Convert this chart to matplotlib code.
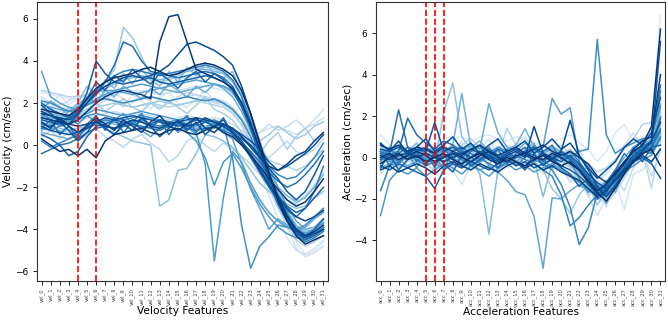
import numpy as np
import matplotlib
matplotlib.use("Agg")
import matplotlib.pyplot as plt

vel_labels = [f"vel_{i}" for i in range(32)]
acc_labels = [f"acc_{i}" for i in range(32)]

# velocity samples, ordered light -> dark
vel_lines = [
    [2.5,2.4,2.3,2.2,2.2,2.4,2.6,2.8,2.9,3.0,3.0,3.1,3.0,2.9,3.0,3.1,3.2,3.3,3.4,3.3,3.2,3.0,2.4,1.5,0.3,-1.0,-2.3,-3.5,-4.6,-5.2,-5.0,-4.6],
    [2.2,1.8,2.4,1.9,2.3,1.7,2.0,2.6,2.2,1.8,2.4,2.1,1.7,2.3,2.5,2.0,1.8,2.2,2.6,2.1,1.9,1.6,0.9,0.0,-1.2,-2.4,-3.5,-4.4,-5.0,-5.2,-4.9,-4.5],
    [2.0,1.9,1.8,1.7,1.8,2.0,2.2,2.3,2.4,2.5,2.6,2.6,2.5,2.4,2.5,2.6,2.7,2.8,2.8,2.7,2.6,2.4,1.9,1.0,-0.2,-1.5,-2.8,-3.9,-4.9,-5.3,-5.1,-4.8],
    [1.2,1.1,1.0,1.0,1.1,1.3,1.4,1.5,1.6,1.5,1.4,1.5,1.4,1.3,1.2,1.3,1.4,1.3,1.2,1.3,1.2,1.0,0.7,0.5,0.6,0.8,0.9,0.7,0.5,0.8,1.2,1.7],
    [2.3,2.0,1.9,2.1,2.4,2.2,1.9,2.1,2.5,2.2,2.0,2.3,2.1,1.8,2.0,2.3,2.5,2.4,2.2,2.0,1.9,1.6,1.0,0.5,0.6,1.0,0.7,0.9,1.2,0.8,1.0,1.3],
    [1.8,1.7,1.6,1.7,1.9,2.1,2.3,2.2,2.1,2.0,2.1,2.2,2.3,2.2,2.1,2.2,2.3,2.4,2.3,2.2,2.1,1.8,1.3,0.6,-0.2,-0.6,-0.2,0.2,-0.3,-0.5,-0.2,0.3],
    [0.4,0.7,0.3,0.6,0.2,0.5,0.8,0.4,0.2,-0.1,0.3,0.5,0.1,-0.2,-0.8,-0.5,0.2,0.4,0.0,-0.3,0.1,-0.2,-0.5,-0.9,-1.4,-1.9,-2.3,-2.6,-2.8,-2.4,-1.9,-1.3],
    [2.6,2.5,2.4,2.3,2.3,2.4,2.5,2.3,2.1,1.9,1.8,1.9,2.0,1.9,1.8,1.9,2.0,2.1,2.0,1.9,1.8,1.5,1.0,0.2,-0.9,-2.0,-3.0,-3.8,-4.5,-4.8,-4.6,-4.3],
    [0.9,0.8,0.7,0.6,0.7,0.9,1.1,1.2,1.3,1.2,1.1,1.2,1.3,1.2,1.1,1.0,1.1,1.2,1.1,1.0,0.9,0.7,0.4,0.1,-0.3,-0.7,-0.9,-1.0,-1.2,-1.0,-0.6,-0.2],
    [1.3,1.6,1.4,1.8,1.5,1.7,2.0,1.6,1.9,2.2,1.8,1.6,2.0,1.7,2.1,1.8,1.5,1.9,2.3,1.7,1.5,1.2,0.6,0.3,-0.4,0.2,0.6,-0.2,0.4,0.8,0.2,0.6],
    [1.5,1.4,1.3,1.2,1.4,1.6,1.8,1.9,2.0,1.9,1.8,1.9,2.0,2.1,2.0,1.9,2.0,2.1,2.2,2.1,2.0,1.7,1.2,0.6,0.2,0.5,0.9,0.6,0.3,0.5,0.9,1.1],
    [1.1,1.0,1.2,1.4,1.7,2.2,2.6,3.0,3.6,5.6,5.1,4.2,3.3,3.0,3.1,3.3,3.5,3.6,3.7,3.6,3.4,3.0,2.3,1.2,-0.1,-1.3,-2.4,-3.3,-4.0,-4.2,-4.0,-3.6],
    [1.0,0.9,0.8,0.7,0.8,0.9,1.0,0.8,0.6,0.4,0.2,0.1,0.0,-2.9,-2.6,-1.2,-1.1,-0.4,0.5,0.4,0.2,-0.1,-0.6,-1.2,-1.8,-2.2,-2.5,-2.8,-3.0,-2.9,-2.5,-2.2],
    [1.4,1.8,1.2,1.6,2.0,2.8,2.4,3.1,2.7,3.4,2.9,3.6,3.1,2.8,3.5,3.0,3.7,3.3,3.9,3.4,3.2,3.5,2.5,1.4,0.2,-1.2,-2.4,-3.3,-4.0,-4.4,-4.1,-3.9],
    [1.6,1.5,1.4,1.3,1.6,2.1,2.5,2.7,2.9,3.1,3.2,3.3,3.2,3.1,3.2,3.4,3.5,3.6,3.6,3.5,3.4,3.1,2.4,1.3,0.1,-1.1,-2.2,-3.1,-3.8,-4.1,-4.0,-3.7],
    [0.6,0.5,0.4,0.3,0.5,0.8,1.0,1.1,1.0,0.9,1.0,1.1,0.9,0.8,0.9,1.0,0.9,0.8,0.9,1.0,0.8,0.6,0.2,-0.3,-0.9,-1.5,-2.0,-2.4,-2.7,-2.5,-2.0,-1.4],
    [1.7,2.1,1.8,1.4,1.9,2.3,2.0,2.6,2.3,2.8,2.5,2.2,2.7,2.4,2.9,2.6,2.3,2.8,2.5,2.9,2.7,2.3,1.6,0.7,-0.5,-1.6,-2.6,-3.4,-4.0,-4.3,-4.2,-3.9],
    [1.9,1.8,1.7,1.6,1.8,2.2,2.5,2.6,2.6,2.5,2.4,2.5,2.6,2.7,2.6,2.5,2.6,2.7,2.8,2.9,2.8,2.6,2.1,1.2,0.1,-1.0,-2.0,-2.9,-3.6,-4.0,-3.9,-3.5],
    [0.7,1.0,0.6,0.9,0.4,0.8,1.1,0.8,0.5,0.9,1.2,0.7,0.4,0.8,1.1,0.6,0.9,0.5,0.8,1.1,0.6,0.3,-0.9,-2.1,-3.0,-4.0,-3.5,-3.8,-4.1,-3.9,-3.5,-3.2],
    [3.5,2.3,2.0,1.8,1.7,1.9,2.2,2.4,2.6,2.7,2.8,2.9,2.8,2.7,2.8,2.9,3.0,3.1,3.0,2.9,2.8,2.5,1.9,1.0,-0.2,-1.3,-2.4,-3.2,-3.9,-4.2,-4.1,-3.9],
    [1.4,1.3,1.2,1.1,1.3,1.5,1.7,1.6,1.5,1.4,1.5,1.6,1.5,1.4,1.3,1.2,1.0,0.6,-0.9,-5.5,-2.5,-0.3,-0.8,-1.8,-2.6,-3.2,-3.6,-3.9,-4.1,-4.2,-4.0,-3.7],
    [1.5,1.2,0.9,1.3,1.0,1.4,1.1,0.8,1.2,1.5,1.0,1.3,0.9,1.2,0.8,1.1,0.6,0.2,-0.6,-1.9,-0.8,-0.4,-1.1,-2.0,-2.8,-3.4,-3.9,-4.2,-4.4,-4.5,-4.2,-3.9],
    [0.8,0.7,0.9,1.0,1.2,1.4,1.5,1.4,1.3,1.2,1.3,1.4,1.3,1.2,1.1,1.2,1.3,1.2,1.1,1.0,0.9,-0.6,-3.8,-5.85,-4.8,-4.35,-3.8,-3.9,-4.0,-3.8,-3.4,-3.0],
    [2.1,2.0,1.8,1.6,1.7,1.9,2.1,2.2,2.1,2.0,2.1,2.2,2.3,2.2,2.1,2.2,2.3,2.2,2.1,2.2,2.0,1.7,1.2,0.4,-0.7,-1.8,-2.8,-3.6,-4.2,-4.5,-4.3,-4.0],
    [0.2,-0.1,0.1,0.3,0.5,0.8,1.0,1.2,1.1,1.0,1.1,1.2,1.0,0.9,1.0,1.1,1.0,0.9,1.1,1.2,1.0,0.8,0.4,0.0,-0.5,-1.0,-1.4,-1.6,-1.5,-1.1,-0.6,0.1],
    [1.3,1.2,1.1,1.0,1.4,2.0,2.6,3.0,3.3,3.5,3.6,3.5,3.4,3.3,3.4,3.5,3.6,3.7,3.8,3.7,3.5,3.1,2.3,1.1,-0.3,-1.6,-2.7,-3.6,-4.3,-4.6,-4.4,-4.1],
    [0.8,1.2,0.5,0.9,0.3,1.0,1.4,0.7,1.3,0.6,1.1,1.5,0.8,1.2,0.5,1.0,1.4,0.6,1.2,0.8,1.3,0.5,0.1,-0.6,-1.3,-2.0,-2.6,-3.1,-3.4,-3.0,-2.2,-1.0],
    [-0.4,-0.2,0.0,0.1,0.3,0.6,0.8,0.9,0.8,0.9,1.0,0.9,0.8,0.7,0.9,1.0,0.8,0.7,0.8,0.9,0.7,0.5,0.1,-0.3,-0.8,-1.3,-1.7,-2.0,-1.8,-1.4,-0.9,-0.3],
    [1.0,0.9,1.1,1.3,1.6,2.0,2.4,3.0,3.8,4.9,4.7,4.0,3.5,3.4,3.3,3.2,3.3,3.4,3.5,3.4,3.2,2.8,2.0,0.9,-0.4,-1.6,-2.7,-3.5,-4.2,-4.5,-4.3,-4.0],
    [2.0,1.7,1.5,1.3,1.6,2.2,3.0,2.6,3.3,3.0,3.6,3.2,2.9,3.4,3.1,2.7,3.2,3.5,3.0,3.4,3.1,2.6,1.8,0.8,-0.5,-1.7,-2.8,-3.6,-4.2,-4.4,-4.0,-3.5],
    [0.5,0.3,0.0,-0.5,-0.3,0.4,0.9,1.0,1.2,1.1,1.0,0.8,1.0,1.2,1.1,0.9,1.0,1.2,1.1,0.9,1.0,0.7,0.2,-0.4,-1.1,-1.8,-2.4,-2.9,-3.2,-3.0,-2.5,-2.0],
    [1.2,1.1,1.0,1.0,1.5,2.5,4.0,3.4,3.0,2.9,3.0,3.1,3.2,3.0,2.9,3.0,3.1,3.2,3.3,3.2,3.0,2.7,2.0,1.0,-0.2,-1.4,-2.4,-3.3,-4.0,-4.3,-4.2,-4.0],
    [1.9,1.5,1.1,0.7,0.2,0.6,1.2,0.8,0.5,1.0,0.7,1.3,0.9,0.4,0.8,1.2,0.7,1.1,0.5,0.9,1.2,0.6,0.3,0.0,-0.5,-1.1,-1.6,-2.2,-2.6,-2.2,-1.4,-0.5],
    [0.9,0.7,0.6,0.5,0.6,0.8,1.1,1.3,1.2,1.3,1.4,1.3,1.2,1.1,1.0,1.1,1.2,1.3,1.2,1.1,1.0,0.8,0.5,0.2,-0.2,-0.8,-1.2,-1.0,-0.7,-0.4,0.0,0.5],
    [1.5,1.4,1.3,1.2,1.5,2.0,2.5,2.8,3.0,3.2,3.3,3.2,3.3,3.5,3.8,4.3,4.8,4.9,4.7,4.5,4.2,3.8,2.8,1.5,0.0,-1.3,-2.5,-3.4,-4.1,-4.4,-4.2,-4.0],
    [1.6,1.4,1.2,1.0,0.9,1.0,1.1,0.9,0.8,1.0,1.2,1.1,0.9,0.8,1.0,1.1,0.9,1.0,1.3,1.1,0.9,0.6,0.1,-0.5,-1.2,-1.9,-2.5,-3.0,-3.4,-3.6,-3.4,-3.1],
    [1.1,0.8,1.3,0.9,0.6,0.9,1.3,1.0,0.7,1.2,0.9,0.6,1.1,1.4,0.9,0.7,1.0,1.3,0.8,0.6,1.0,0.8,0.4,-0.1,-0.6,-1.0,-1.2,-0.9,-0.5,-0.3,0.2,0.6],
    [1.3,1.2,1.1,1.0,1.2,1.6,2.0,2.3,2.5,2.6,2.5,2.4,2.2,4.9,6.1,6.2,4.9,3.6,3.4,3.2,3.0,2.7,2.0,1.0,-0.2,-1.4,-2.5,-3.4,-4.0,-4.3,-4.1,-3.8],
    [0.3,0.0,-0.3,-0.2,-0.5,-0.2,-0.6,0.2,0.5,0.6,0.7,0.8,0.6,0.5,0.7,0.8,0.6,0.5,0.7,0.9,0.6,0.4,0.0,-0.5,-1.0,-1.6,-2.1,-2.6,-2.9,-2.7,-2.2,-1.6],
    [1.7,1.6,1.5,1.4,1.7,2.2,2.7,3.0,3.2,3.3,3.4,3.6,3.7,3.5,3.3,3.4,3.6,3.8,3.9,3.8,3.6,3.3,2.6,1.5,0.1,-1.3,-2.6,-3.6,-4.3,-4.7,-4.5,-4.3],
]

# acceleration samples, ordered light -> dark
acc_lines = [
    [1.1,0.6,0.3,0.4,0.5,0.6,0.4,0.7,0.9,1.0,0.8,1.0,1.1,0.9,0.8,1.0,0.9,0.7,0.6,0.8,0.9,1.1,0.7,0.4,-0.2,0.3,1.2,1.6,0.8,0.9,1.3,6.9],
    [-0.3,-0.1,0.2,-0.2,-0.4,-0.2,0.1,-0.3,-0.6,-1.3,-0.4,-0.2,0.1,-0.3,-0.5,-0.2,0.0,-0.4,-0.8,-0.3,-0.5,-1.0,-1.3,-1.8,-2.8,-1.9,-1.2,-2.5,-0.8,-0.6,-0.3,0.5],
    [0.4,-0.2,0.6,0.1,-0.3,0.5,0.0,-0.4,0.3,0.8,-0.1,0.4,0.9,0.2,-0.3,0.5,1.0,0.3,-0.2,0.6,0.2,-0.4,0.4,-0.6,-1.1,-0.8,-0.2,0.6,1.2,0.5,1.3,2.8],
    [0.5,0.3,0.0,0.2,0.4,0.1,0.3,0.6,0.2,0.1,0.4,0.6,0.3,0.5,0.6,0.4,0.2,0.5,0.3,0.4,0.6,0.2,0.0,-0.4,-1.0,-1.5,-1.1,-0.7,0.1,1.0,0.4,1.5],
    [-0.8,-0.3,0.1,-0.5,0.2,-0.2,-0.7,0.3,-0.4,0.0,-0.6,0.2,-0.3,-0.8,-0.2,0.3,-0.5,-0.1,-0.7,0.0,-0.4,-1.2,-0.6,-1.9,-1.3,-2.4,-1.0,-1.6,-0.5,0.2,-0.9,0.3],
    [0.0,-0.3,-0.5,-0.2,0.0,-0.3,-0.6,-0.1,0.2,-0.2,-0.6,-0.3,0.0,0.3,-0.1,-0.4,-0.2,0.1,-0.3,-0.6,-0.2,-0.5,-1.1,-1.5,-2.0,-2.2,-1.7,-1.0,-0.2,0.3,-1.5,0.8],
    [0.3,0.5,0.2,0.1,0.3,0.5,0.2,0.0,0.3,0.6,0.9,0.5,0.3,0.1,1.4,0.6,0.4,0.2,0.1,0.3,0.0,-0.2,-0.6,-0.3,-0.7,-0.5,-0.1,0.4,0.9,1.6,1.7,1.1],
    [0.7,0.2,-0.2,0.1,0.3,0.0,-0.3,0.2,0.5,0.1,-0.2,0.3,0.5,0.2,0.0,-0.2,0.3,0.5,0.1,-0.1,0.2,0.4,0.0,-0.5,-1.3,-1.7,-1.2,-0.5,0.2,0.6,0.9,3.0],
    [0.2,0.0,0.4,0.3,0.1,-0.1,0.2,0.4,0.0,-0.3,0.1,0.3,0.0,-0.2,0.2,0.4,0.1,-0.1,0.3,0.5,0.2,-0.1,-0.4,-0.9,-1.6,-2.0,-1.4,-0.6,0.0,0.4,0.2,2.2],
    [0.1,0.4,-0.2,0.3,0.0,-0.3,0.2,0.5,-0.1,0.2,-0.4,0.3,0.0,-0.3,0.2,-0.1,-0.5,-0.2,-0.6,-1.5,-2.0,-2.7,-1.8,-1.3,-2.3,-1.6,-0.8,-0.2,0.2,0.5,0.3,1.1],
    [-0.2,0.1,0.3,0.0,-0.2,0.1,-0.3,2.2,3.6,1.0,0.4,-0.2,0.1,0.3,0.0,-0.3,0.2,0.4,0.1,-0.2,0.0,-0.4,-0.8,-1.0,-1.5,-1.7,-1.0,-0.5,0.1,0.3,0.6,1.8],
    [0.6,0.4,0.2,0.5,0.3,0.1,0.4,0.2,0.0,0.3,-0.1,-0.8,-3.7,-0.6,-0.2,0.1,-0.3,-0.1,-1.9,-0.3,-0.5,-0.8,-1.1,-1.4,-2.0,-1.8,-1.1,-0.4,0.1,0.4,0.2,1.6],
    [0.6,0.0,-0.4,0.3,0.7,-0.1,0.5,-0.3,0.4,-0.2,0.6,0.1,-0.4,0.5,0.2,-0.3,0.4,0.7,-0.2,0.3,-0.5,0.2,-0.8,-0.4,-1.6,-1.1,-1.7,-0.6,0.3,0.9,0.4,2.4],
    [0.4,0.2,0.0,0.3,0.5,0.2,0.0,0.3,0.6,3.1,0.5,0.8,0.3,0.0,0.4,0.6,1.4,0.5,0.2,0.4,0.1,-0.3,-0.7,-1.2,-1.7,-1.5,-0.9,-0.3,0.3,0.6,0.9,2.6],
    [0.1,0.3,0.5,0.2,0.0,0.3,0.5,0.2,-0.1,0.3,0.6,0.4,2.6,1.2,0.5,0.3,0.7,0.4,0.2,0.5,0.3,0.0,-0.5,-0.9,-1.4,-1.2,-0.6,0.0,0.5,0.8,0.6,1.9],
    [-0.5,-0.3,-0.1,-0.4,-0.2,0.0,-0.3,-0.5,-0.2,0.0,-0.3,-0.6,-0.4,-0.7,-1.1,-1.65,-1.8,-2.85,-5.35,-1.95,-2.0,-1.6,-1.3,-1.6,-1.8,-1.4,-0.8,-0.3,0.0,0.2,0.4,1.2],
    [0.0,-0.2,0.1,0.3,0.0,-0.2,0.1,0.4,0.2,0.0,0.3,0.5,0.2,-0.1,0.2,0.4,0.1,0.3,0.5,2.85,2.1,2.4,-0.2,-0.8,-1.3,-1.6,-1.0,-0.4,0.2,0.5,0.7,2.0],
    [-2.8,-1.1,-0.6,-0.8,-0.5,-0.9,-0.6,-0.3,-0.5,-0.8,-0.4,-0.6,-0.9,-0.5,-0.3,-0.6,-0.4,-0.7,-0.5,-0.3,-0.6,-0.9,-1.2,-1.5,-1.9,-1.6,-1.2,-0.7,-0.4,-0.1,0.1,0.9],
    [-0.2,0.5,-0.3,0.2,-0.5,0.4,0.1,-0.6,0.3,0.5,-0.3,0.1,0.5,-0.2,0.4,-0.4,0.0,0.6,-0.1,-0.5,0.3,-0.2,-1.0,-1.7,-1.2,-2.2,-1.4,-0.4,0.5,0.1,0.8,3.2],
    [0.2,0.4,0.1,-0.1,0.2,0.4,0.1,-0.2,0.1,0.3,0.0,-0.2,0.2,0.5,0.3,0.0,0.2,0.4,0.1,-0.1,0.2,0.0,0.3,0.4,5.7,1.1,0.2,0.5,0.7,0.9,1.0,2.5],
    [0.3,0.1,-0.2,0.0,0.2,-0.1,-0.3,0.0,0.2,-0.1,-0.4,-0.2,0.1,-0.1,-0.3,0.0,0.2,-0.1,-0.3,-0.6,-1.3,-2.4,-4.2,-3.4,-1.7,-1.3,-0.8,-0.3,0.2,0.4,0.6,1.4],
    [-1.6,-0.4,-0.2,0.1,-0.1,-0.4,-0.2,0.1,-0.3,-0.5,-0.2,0.0,-0.3,-0.5,-0.2,0.1,-0.1,-0.3,-0.6,-0.9,-1.8,-3.3,-2.9,-2.3,-1.8,-1.4,-0.9,-0.5,0.0,0.3,0.2,1.0],
    [0.3,-0.4,0.2,0.5,-0.2,0.3,-0.5,0.4,0.0,-0.4,0.3,0.6,-0.1,0.4,-0.3,0.2,0.5,-0.2,0.3,0.6,-0.1,0.3,-0.2,-0.9,-1.8,-1.2,-0.6,0.2,-0.3,0.7,0.3,1.9],
    [0.2,0.2,2.3,0.5,0.3,0.5,0.2,0.0,0.3,0.5,0.2,-0.1,0.1,0.4,0.2,0.0,0.3,0.1,-0.2,0.1,0.3,0.0,-0.4,-0.9,-1.5,-1.8,-1.3,-0.6,0.0,0.3,0.5,1.3],
    [-0.1,0.1,0.3,1.9,1.1,0.7,0.4,0.8,0.6,0.3,0.0,0.2,0.4,0.1,-0.2,0.0,0.3,0.5,0.2,0.0,0.2,-0.1,-0.5,-1.0,-1.6,-1.4,-0.8,-0.2,0.3,0.5,0.8,3.5],
    [-0.5,0.2,-0.6,-0.1,0.3,-0.4,0.2,-0.3,-0.7,0.1,-0.4,-0.1,0.3,-0.5,0.1,-0.2,-0.6,0.2,-0.4,0.0,-0.5,-0.8,-1.4,-1.0,-2.0,-1.7,-0.9,-0.3,0.4,-0.2,0.5,0.6],
    [-0.4,-0.6,-0.3,-0.5,-0.7,-0.9,-1.5,-0.6,-0.3,-0.5,-0.2,-0.4,-0.6,-0.3,-0.1,-0.4,-0.2,-0.5,-0.3,-0.1,-0.4,-0.6,-0.9,-1.3,-1.8,-1.5,-1.0,-0.6,-0.2,0.0,-0.3,-1.0],
    [0.4,0.3,0.5,0.2,0.4,0.3,1.7,0.3,0.5,0.2,0.0,0.3,0.1,-0.1,0.2,0.4,0.1,-0.1,0.2,0.0,-0.2,0.1,-0.3,-0.8,-1.2,-1.5,-1.1,-0.5,0.1,0.4,0.7,5.6],
    [0.7,0.3,0.8,0.2,0.5,0.9,0.3,0.6,1.0,0.4,0.7,0.2,0.6,0.9,0.3,0.5,0.8,0.2,0.5,0.9,0.4,0.7,0.1,-0.5,-1.0,-0.6,-0.2,0.5,0.9,0.6,1.2,2.9],
    [0.1,-0.1,0.1,0.2,0.0,0.2,0.0,-0.2,0.0,0.2,0.4,0.2,0.0,-0.2,0.1,0.3,0.0,1.5,0.2,-0.1,0.3,1.8,0.1,-0.6,-1.4,-1.9,-1.4,-0.7,-0.1,0.3,0.8,1.7],
    [-0.6,-0.4,-0.7,-0.5,-0.3,-0.5,-0.8,-0.4,-0.2,-0.4,-0.6,-0.3,-0.5,-0.7,-0.4,-0.2,-0.5,-0.3,-0.6,-0.4,-0.7,-0.9,-1.1,-1.5,-1.9,-1.6,-1.1,-0.6,-0.2,0.1,-0.2,0.4],
    [0.6,0.4,0.6,0.3,0.5,0.4,0.2,0.5,0.3,0.1,0.4,0.6,0.3,0.1,0.3,0.5,0.2,0.4,0.6,0.3,0.1,0.3,0.0,-0.3,-0.9,-1.2,-0.8,-0.3,0.4,0.8,1.0,4.0],
    [0.0,0.2,-0.1,0.1,0.3,0.1,-0.2,0.0,0.2,0.0,-0.2,0.1,0.3,0.0,-0.2,0.1,0.2,0.0,-0.1,0.2,0.0,-0.3,-0.6,-1.1,-1.6,-1.3,-0.7,-0.2,0.3,0.6,1.5,6.2],
    [-0.3,0.0,0.2,-0.1,0.1,-0.2,0.0,0.2,-0.1,-0.3,0.0,0.2,-0.1,-0.3,0.0,-0.2,-0.4,-0.1,0.1,-0.2,-0.4,-0.2,-0.6,-1.2,-1.7,-2.1,-1.5,-0.8,-0.2,0.2,0.4,-0.4],
]

vel_marks = [4, 6]
acc_marks = [5, 6, 7]


def draw_panel(ax, lines, labels, marks, xlabel, ylabel):
    x = np.arange(len(labels))
    shades = np.linspace(0.15, 1.0, len(lines))
    for row, s in zip(lines, shades):
        ax.plot(x, row, color=plt.cm.Blues(s), lw=1.1)
    for m in marks:
        ax.axvline(m, color="red", ls="--", lw=1.2)
    ax.set_xlim(-0.5, len(labels) - 0.5)
    ax.set_xticks(x)
    ax.set_xticklabels(labels, rotation=90, fontsize=3.7, color="#444444")
    ax.tick_params(axis="y", labelsize=6.5, length=3, width=0.6)
    ax.tick_params(axis="x", length=3, width=0.6, pad=2)
    ax.set_xlabel(xlabel, fontsize=7.7, labelpad=1)
    ax.set_ylabel(ylabel, fontsize=7.7, labelpad=1)
    for sp in ax.spines.values():
        sp.set_color("#333333")
        sp.set_linewidth(0.8)


fig = plt.figure(figsize=(6.68, 3.23), dpi=100)
ax1 = fig.add_axes([0.0554, 0.13, 0.4356, 0.864])
ax2 = fig.add_axes([0.5629, 0.13, 0.4326, 0.864])

draw_panel(ax1, vel_lines, vel_labels, vel_marks, "Velocity Features", "Velocity (cm/sec)")
draw_panel(ax2, acc_lines, acc_labels, acc_marks, "Acceleration Features", "Acceleration (cm/sec)")

fig.savefig("out.png", dpi=100)
